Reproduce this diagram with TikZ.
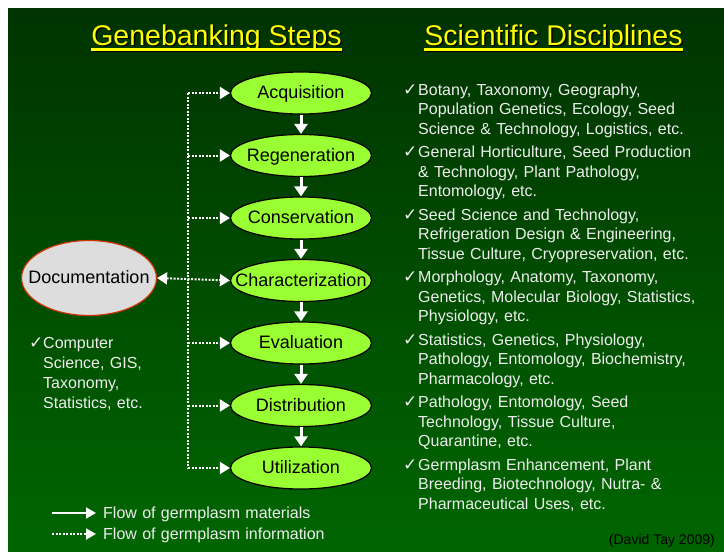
\documentclass[tikz,border=0pt]{standalone}
\usepackage{fontspec}
\setmainfont{Liberation Sans}
\newfontfamily\symf{DejaVu Sans}
\usetikzlibrary{arrows.meta,shapes.geometric,calc}
\definecolor{bgtop}{HTML}{003300}
\definecolor{bgbot}{HTML}{006600}
\definecolor{lime}{HTML}{99FF33}
\definecolor{docgray}{HTML}{DDDDDD}
\definecolor{docred}{HTML}{CC3300}
\definecolor{txt}{HTML}{EEEEEE}
\definecolor{ttl}{HTML}{FFFF00}
\newcommand{\fixw}[1]{\makebox[0pt][c]{#1}}
\begin{document}
\begin{tikzpicture}[x=1pt,y=-1pt,
  stepnode/.style={ellipse, draw=black, line width=1.2pt, fill=lime, minimum width=141pt, minimum height=42pt, inner sep=0pt, text height=14pt, text depth=3pt, font=\fontsize{18}{20}\selectfont},
  docnode/.style={ellipse, draw=docred, line width=1.2pt, fill=docgray, minimum width=135pt, minimum height=75pt, inner sep=0pt, text height=14pt, text depth=3pt, font=\fontsize{18}{20}\selectfont},
  matflow/.style={draw=white, line width=3pt, -{Triangle[width=13pt,length=10pt]}},
  infoflow/.style={draw=white, line width=2pt, dash pattern=on 2pt off 1.5pt, -{Triangle[width=12pt,length=10pt]}},
  infoline/.style={draw=white, line width=2pt, dash pattern=on 2pt off 1.5pt},
  bodytext/.style={anchor=base west, inner sep=0pt, text=txt, align=left, text width=310pt, font=\fontsize{16}{19.7}\selectfont},
  checkmark/.style={anchor=base west, inner sep=0pt, text=txt, font=\symf\fontsize{17}{18}\selectfont},
  titletext/.style={anchor=base, inner sep=0pt, font=\fontsize{28.5}{32}\selectfont},
]
\useasboundingbox (0,0) rectangle (724,552);
\fill[white] (0,0) rectangle (724,552);
\shade[top color=bgtop, bottom color=bgbot] (8,8) rectangle (724,552);

% titles
\node[titletext, text=black] (t1s) at (218,46.5) {Genebanking Steps};
\node[titletext, text=black] (t2s) at (555,46.5) {Scientific Disciplines};
\draw[black, line width=2.5pt] ($(t1s.base west)+(0,4.5)$) -- ($(t1s.base east)+(0,4.5)$);
\draw[black, line width=2.5pt] ($(t2s.base west)+(0,4.5)$) -- ($(t2s.base east)+(0,4.5)$);
\node[titletext, text=ttl] (t1) at (216.5,45) {Genebanking Steps};
\node[titletext, text=ttl] (t2) at (553.5,45) {Scientific Disciplines};
\draw[ttl, line width=2.5pt] ($(t1.base west)+(0,4.5)$) -- ($(t1.base east)+(0,4.5)$);
\draw[ttl, line width=2.5pt] ($(t2.base west)+(0,4.5)$) -- ($(t2.base east)+(0,4.5)$);

% steps
\node[stepnode] (acq) at (301,93) {\fixw{Acquisition}};
\node[stepnode] (reg) at (301,155.5) {\fixw{Regeneration}};
\node[stepnode] (con) at (301,218) {\fixw{Conservation}};
\node[stepnode] (cha) at (301,280.5) {\fixw{Characterization}};
\node[stepnode] (eva) at (301,343) {\fixw{Evaluation}};
\node[stepnode] (dis) at (301,405.5) {\fixw{Distribution}};
\node[stepnode] (uti) at (301,468) {\fixw{Utilization}};
\node[docnode] (doc) at (89,278) {\fixw{Documentation}};

% material flow
\draw[matflow] (acq.south) -- (reg.north);
\draw[matflow] (reg.south) -- (con.north);
\draw[matflow] (con.south) -- (cha.north);
\draw[matflow] (cha.south) -- (eva.north);
\draw[matflow] (eva.south) -- (dis.north);
\draw[matflow] (dis.south) -- (uti.north);

% information flow
\coordinate (vx) at (188,0);
\draw[infoline] (vx |- acq.west) -- (vx |- uti.west);
\draw[infoflow] (vx |- acq.west) -- (acq.west);
\draw[infoflow] (vx |- reg.west) -- (reg.west);
\draw[infoflow] (vx |- con.west) -- (con.west);
\draw[infoflow] (vx |- eva.west) -- (eva.west);
\draw[infoflow] (vx |- dis.west) -- (dis.west);
\draw[infoflow] (vx |- uti.west) -- (uti.west);
\draw[infoflow, {Triangle[width=12pt,length=10pt]}-{Triangle[width=12pt,length=10pt]}] (doc.east) -- (cha.west);

% left text
\node[checkmark] (lc) at (29,348) {✓};
\node[bodytext, font=\fontsize{16}{20}\selectfont] (lt) at (43,348) {Computer\\Science, GIS,\\Taxonomy,\\Statistics, etc.};

% right text
\node[checkmark] (c1) at (403,95) {✓};
\node[bodytext] (d1) at (418,95) {Botany, Taxonomy, Geography,\\Population Genetics, Ecology, Seed\\Science \& Technology, Logistics, etc.};
\node[checkmark] (c2) at (403,157.5) {✓};
\node[bodytext] (d2) at (418,157.5) {General Horticulture, Seed Production\\\& Technology, Plant Pathology,\\Entomology, etc.};
\node[checkmark] (c3) at (403,220) {✓};
\node[bodytext] (d3) at (418,220) {Seed Science and Technology,\\Refrigeration Design \& Engineering,\\Tissue Culture, Cryopreservation, etc.};
\node[checkmark] (c4) at (403,282.5) {✓};
\node[bodytext] (d4) at (418,282.5) {Morphology, Anatomy, Taxonomy,\\Genetics, Molecular Biology, Statistics,\\Physiology, etc.};
\node[checkmark] (c5) at (403,345) {✓};
\node[bodytext] (d5) at (418,345) {Statistics, Genetics, Physiology,\\Pathology, Entomology, Biochemistry,\\Pharmacology, etc.};
\node[checkmark] (c6) at (403,407.5) {✓};
\node[bodytext] (d6) at (418,407.5) {Pathology, Entomology, Seed\\Technology, Tissue Culture,\\Quarantine, etc.};
\node[checkmark] (c7) at (403,470) {✓};
\node[bodytext] (d7) at (418,470) {Germplasm Enhancement, Plant\\Breeding, Biotechnology, Nutra- \&\\Pharmaceutical Uses, etc.};

% legend
\coordinate (l1a) at (52,513);
\coordinate (l1b) at (96,513);
\coordinate (l2a) at (52,534);
\coordinate (l2b) at (96,534);
\draw[matflow, line width=2pt, -{Triangle[width=11pt,length=10pt]}] (l1a) -- (l1b);
\draw[infoflow, -{Triangle[width=11pt,length=10pt]}] (l2a) -- (l2b);
\node[bodytext] (lg1) at (103,518.5) {Flow of germplasm materials};
\node[bodytext] (lg2) at (103,539.5) {Flow of germplasm information};

\node[anchor=base east, inner sep=0pt, text=black, font=\fontsize{14}{16}\selectfont] (cite) at (715,544) {(David Tay 2009)};
\end{tikzpicture}
\end{document}
